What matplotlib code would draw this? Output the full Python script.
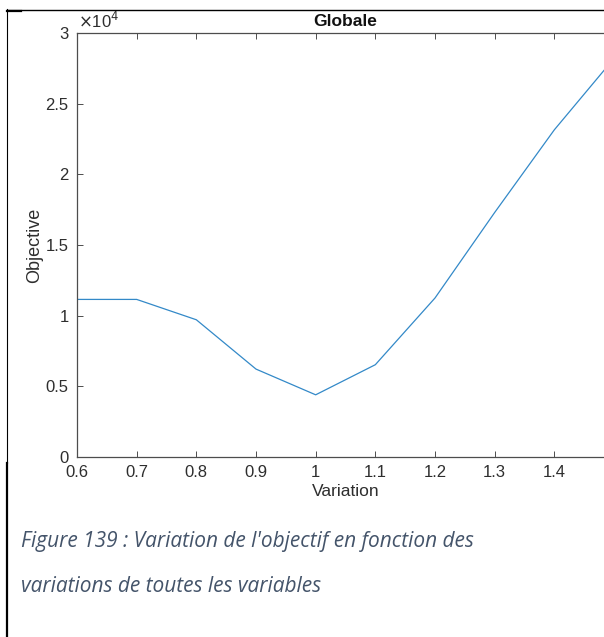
import matplotlib
matplotlib.use("Agg")
import matplotlib.pyplot as plt
from matplotlib.lines import Line2D
from matplotlib.ticker import FuncFormatter

plt.rcParams['font.family'] = ['Liberation Sans', 'DejaVu Sans']

# Objective value for each global variation factor
variation = [0.6, 0.7, 0.8, 0.9, 1.0, 1.1, 1.2, 1.3, 1.4, 1.5]
objective = [11150, 11150, 9710, 6220, 4400, 6530, 11250, 17300, 23150, 28200]

x_ticks = [0.6, 0.7, 0.8, 0.9, 1.0, 1.1, 1.2, 1.3, 1.4, 1.5]
x_labels = ['0.6', '0.7', '0.8', '0.9', '1', '1.1', '1.2', '1.3', '1.4', '']
y_ticks = [0, 5000, 10000, 15000, 20000, 25000, 30000]

W, H = 604, 637
fig = plt.figure(figsize=(W / 100, H / 100), dpi=100)

def fx(px):
    return px / W

def fy(py):
    return 1 - py / H

ax = fig.add_axes([fx(77), fy(457), fx(614) - fx(77), fy(33) - fy(457)])
ax.plot(variation, objective, color='#3389c8', lw=0.9)

ax.set_xlim(0.6, 1.5)
ax.set_ylim(0, 30000)
ax.set_xticks(x_ticks)
ax.set_xticklabels(x_labels)
ax.set_yticks(y_ticks)
ax.yaxis.set_major_formatter(FuncFormatter(lambda v, p: '%g' % (v / 1e4)))

axis_color = '#4d4d4d'
for s in ax.spines.values():
    s.set_color(axis_color)
    s.set_linewidth(0.9)
ax.tick_params(direction='in', length=4, width=0.7, color=axis_color,
               labelcolor='#2e2e2e', labelsize=12, top=True, right=True)
ax.tick_params(axis='x', pad=6)
ax.tick_params(axis='y', pad=6)

ax.set_xlabel('Variation', fontsize=12.5, color='#2e2e2e', labelpad=3)
ax.set_ylabel('Objective', fontsize=13, color='#2e2e2e', labelpad=2)
ax.set_title('Globale', fontsize=12.5, fontweight='bold', color='#111111', pad=5)

# exponent marker for the y axis
fig.text(fx(78), fy(31), r'$\times$10$^{4}$', fontsize=12, color='#2e2e2e',
         ha='left', va='bottom')

# caption
cap_kw = dict(fontsize=15, style='italic', color='#44546A',
              family=['Open Sans', 'DejaVu Sans'], ha='left', va='center')
fig.text(fx(21), fy(541), "Figure 139 : Variation de l'objectif en fonction des", **cap_kw)
fig.text(fx(21), fy(586), "variations de toutes les variables", **cap_kw)

# surrounding table borders
fig.add_artist(Line2D([fx(7), fx(604)], [fy(9.5), fy(9.5)], color='black', lw=1.0))
fig.add_artist(Line2D([fx(7), fx(7)], [fy(9), fy(463)], color='black', lw=0.8))
fig.add_artist(Line2D([fx(6.5), fx(6.5)], [fy(463), fy(637)], color='black', lw=1.6))
fig.add_artist(Line2D([fx(7), fx(21)], [fy(11), fy(11)], color='black', lw=1.6))

fig.savefig('out.png', dpi=100)
